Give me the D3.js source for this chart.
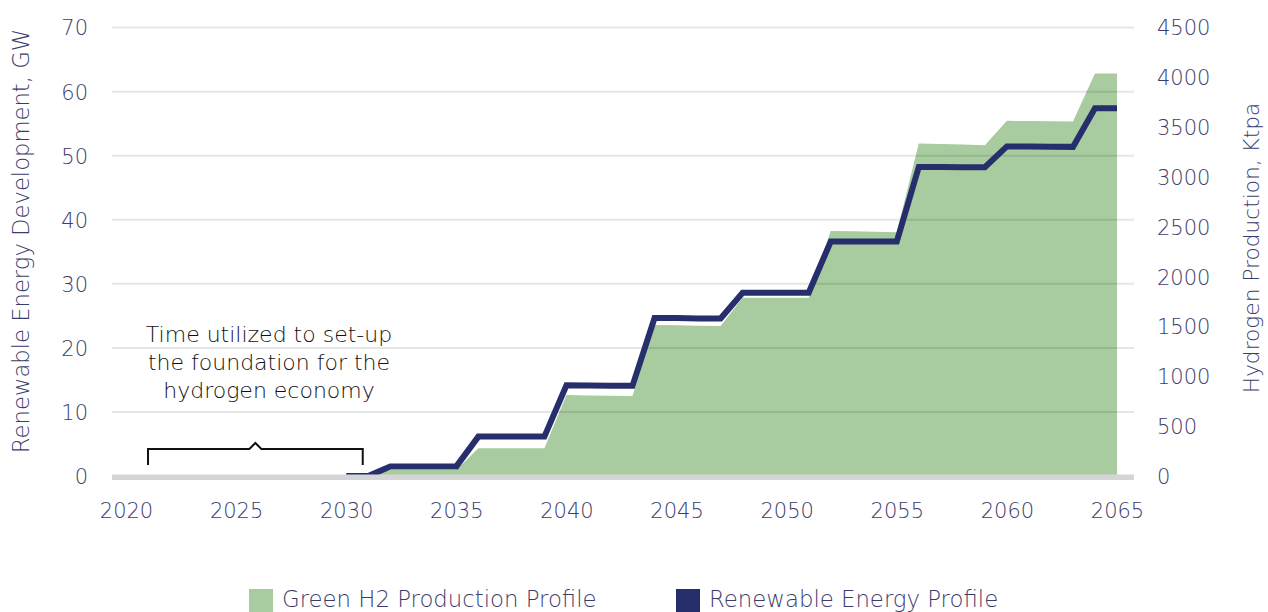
<!DOCTYPE html>
<html>
<head>
<meta charset="utf-8">
<script src="https://cdn.jsdelivr.net/npm/d3@7"></script>
<style>
  html, body { margin: 0; padding: 0; background: #fff; }
  svg { display: block; }
  text { font-family: "DejaVu Sans", sans-serif; font-weight: 200; }
</style>
</head>
<body>
<svg id="chart" width="1268" height="612"></svg>
<script>
const years = [2030,2031,2032,2033,2034,2035,2036,2037,2038,2039,2040,2041,2042,2043,2044,2045,2046,2047,2048,2049,2050,2051,2052,2053,2054,2055,2056,2057,2058,2059,2060,2061,2062,2063,2064,2065];
const renewableGW = [0,0,1.5,1.5,1.5,1.5,6.15,6.15,6.15,6.15,14.15,14.13,14.1,14.08,24.65,24.65,24.6,24.6,28.6,28.6,28.6,28.6,36.6,36.6,36.6,36.6,48.25,48.25,48.2,48.2,51.45,51.43,51.4,51.38,57.4,57.4];
const greenKtpa = [0,0,60,60,60,60,278,278,278,278,812,809,806,802,1515,1512,1508,1505,1790,1790,1790,1790,2460,2456,2452,2447,3337,3331,3326,3320,3564,3562,3560,3558,4039,4039];
const xTicks = [2020,2025,2030,2035,2040,2045,2050,2055,2060,2065];
const leftTicks = [0,10,20,30,40,50,60,70];
const rightTicks = [0,500,1000,1500,2000,2500,3000,3500,4000,4500];
const annotationLines = ["Time utilized to set-up","the foundation for the","hydrogen economy"];
const legendItems = [
  {label: "Green H2 Production Profile", color: "#a8cb9f"},
  {label: "Renewable Energy Profile", color: "#262f6b"}
];

const svg = d3.select("#chart");
const x = d3.scaleLinear().domain([2020, 2065]).range([126, 1117]);
const yL = d3.scaleLinear().domain([0, 70]).range([476, 27.6]);
const yR = d3.scaleLinear().domain([0, 4500]).range([476, 27.6]);
const plotLeft = 112, plotRight = 1134;
const labelColor = "#3c3c6c";

// area
const area = d3.area()
  .x((d, i) => x(years[i]))
  .y0(yR(0))
  .y1(d => yR(d));
svg.append("path")
  .datum(greenKtpa)
  .attr("d", area)
  .attr("fill", "#a8cb9f");

// gridlines (drawn over area, translucent)
svg.append("g").selectAll("line")
  .data(leftTicks.filter(t => t > 0))
  .join("line")
  .attr("x1", plotLeft).attr("x2", plotRight)
  .attr("y1", d => yL(d)).attr("y2", d => yL(d))
  .attr("stroke", "rgba(0,0,0,0.1)")
  .attr("stroke-width", 2);

// line
const line = d3.line()
  .x((d, i) => x(years[i]))
  .y(d => yL(d));
svg.append("path")
  .datum(renewableGW)
  .attr("d", line)
  .attr("fill", "none")
  .attr("stroke", "#262f6b")
  .attr("stroke-width", 6)
  .attr("stroke-linejoin", "miter");

// baseline bar
svg.append("line")
  .attr("x1", plotLeft).attr("x2", plotRight)
  .attr("y1", yL(0) + 1.2).attr("y2", yL(0) + 1.2)
  .attr("stroke", "#d4d5d6")
  .attr("stroke-width", 5.5);

// left axis
const leftAxis = d3.axisLeft(yL).tickValues(leftTicks).tickSize(0).tickPadding(0);
const gL = svg.append("g").attr("transform", "translate(88,0)").call(leftAxis);
gL.select(".domain").remove();
gL.selectAll("text").attr("fill", labelColor).style("font-size", "21px").attr("dy", "0.35em");

// right axis
const rightAxis = d3.axisRight(yR).tickValues(rightTicks).tickFormat(d3.format("d")).tickSize(0).tickPadding(0);
const gR = svg.append("g").attr("transform", "translate(1157,0)").call(rightAxis);
gR.select(".domain").remove();
gR.selectAll("text").attr("fill", labelColor).style("font-size", "21px").attr("dy", "0.35em");

// x axis
const bottomAxis = d3.axisBottom(x).tickValues(xTicks).tickFormat(d3.format("d")).tickSize(0).tickPadding(0);
const gX = svg.append("g").attr("transform", "translate(0,503)").call(bottomAxis);
gX.select(".domain").remove();
gX.selectAll("text").attr("fill", labelColor).style("font-size", "21px").attr("dy", "0.71em");

// axis titles
svg.append("text")
  .attr("transform", "translate(29,241) rotate(-90)")
  .attr("text-anchor", "middle")
  .attr("fill", labelColor)
  .style("font-size", "22.7px")
  .text("Renewable Energy Development, GW");
svg.append("text")
  .attr("transform", "translate(1259,248) rotate(-90)")
  .attr("text-anchor", "middle")
  .attr("fill", labelColor)
  .style("font-size", "21.7px")
  .text("Hydrogen Production, Ktpa");

// annotation
svg.append("g").selectAll("text")
  .data(annotationLines)
  .join("text")
  .attr("x", 269)
  .attr("y", (d, i) => 342 + i * 28)
  .attr("text-anchor", "middle")
  .attr("fill", "#111")
  .style("font-size", "22px")
  .text(d => d);

const bx0 = x(2021), bx1 = x(2030.75), bY = 449, bMid = (bx0 + bx1) / 2;
svg.append("path")
  .attr("d", `M${bx0},${bY + 16} V${bY} H${bMid - 6} L${bMid},${bY - 6} L${bMid + 6},${bY} H${bx1} V${bY + 16}`)
  .attr("fill", "none")
  .attr("stroke", "#111")
  .attr("stroke-width", 2);

// legend
const lg = svg.append("g");
const legendX = [249, 676];
legendItems.forEach((item, i) => {
  lg.append("rect").attr("x", legendX[i]).attr("y", 589).attr("width", 24).attr("height", 24).attr("fill", item.color);
  lg.append("text").attr("x", legendX[i] + 33).attr("y", 607)
    .attr("fill", labelColor).style("font-size", "22.8px").text(item.label);
});
</script>
</body>
</html>
